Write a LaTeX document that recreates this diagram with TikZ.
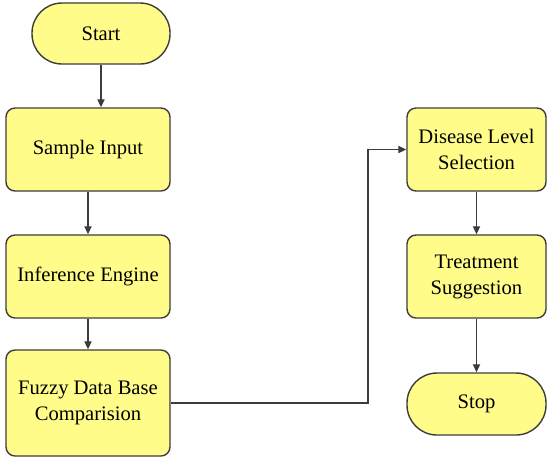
\documentclass[tikz,border=0pt]{standalone}
\usepackage{fontspec}
\setmainfont{Liberation Serif}
\usetikzlibrary{arrows.meta,positioning,calc}
\definecolor{boxfill}{RGB}{255,252,138}
\definecolor{boxline}{RGB}{60,60,60}
\tikzset{
  procbox/.style={draw=boxline, fill=boxfill, line width=0.7pt, rounded corners=4.5pt,
      align=center, font=\rmfamily\fontsize{10.3}{13}\selectfont, inner sep=0pt},
  termbox/.style={procbox, rounded corners=15pt},
  farr/.style={-{Triangle[length=4pt, width=3.6pt]}, boxline, line width=0.6pt},
}
\begin{document}
\begin{tikzpicture}[x=0.5pt, y=-0.5pt]
\useasboundingbox (0,0) rectangle (550,463);
%---- left column
\node[termbox, minimum width=69pt, minimum height=30.5pt] (start) at (101,33.5) {Start};
\node[procbox, minimum width=82pt, minimum height=41.5pt] (sample) at (88,149.5) {Sample Input};
\node[procbox, minimum width=82pt, minimum height=41.5pt] (infer) at (88,276.5) {Inference Engine};
\node[procbox, minimum width=82pt, minimum height=53pt] (fuzzy) at (88,403) {Fuzzy Data Base\\Comparision};
%---- right column
\node[procbox, minimum width=69.5pt, minimum height=41.5pt] (disease) at (476.5,149.5) {Disease Level\\Selection};
\node[procbox, minimum width=69.5pt, minimum height=41.5pt] (treat) at (476.5,276.5) {Treatment\\Suggestion};
\node[termbox, minimum width=69.5pt, minimum height=31pt] (stop) at (476.5,404) {Stop};
\coordinate (bend) at (368,0);
%---- connectors
\draw[farr] (start.south) -- (start.south |- sample.north);
\draw[farr] (sample) -- (infer);
\draw[farr] (infer) -- (fuzzy);
\draw[farr] (fuzzy.east) -- (fuzzy.east -| bend) |- (disease.west);
\draw[farr] (disease) -- (treat);
\draw[farr] (treat) -- (stop);
\end{tikzpicture}
\end{document}
